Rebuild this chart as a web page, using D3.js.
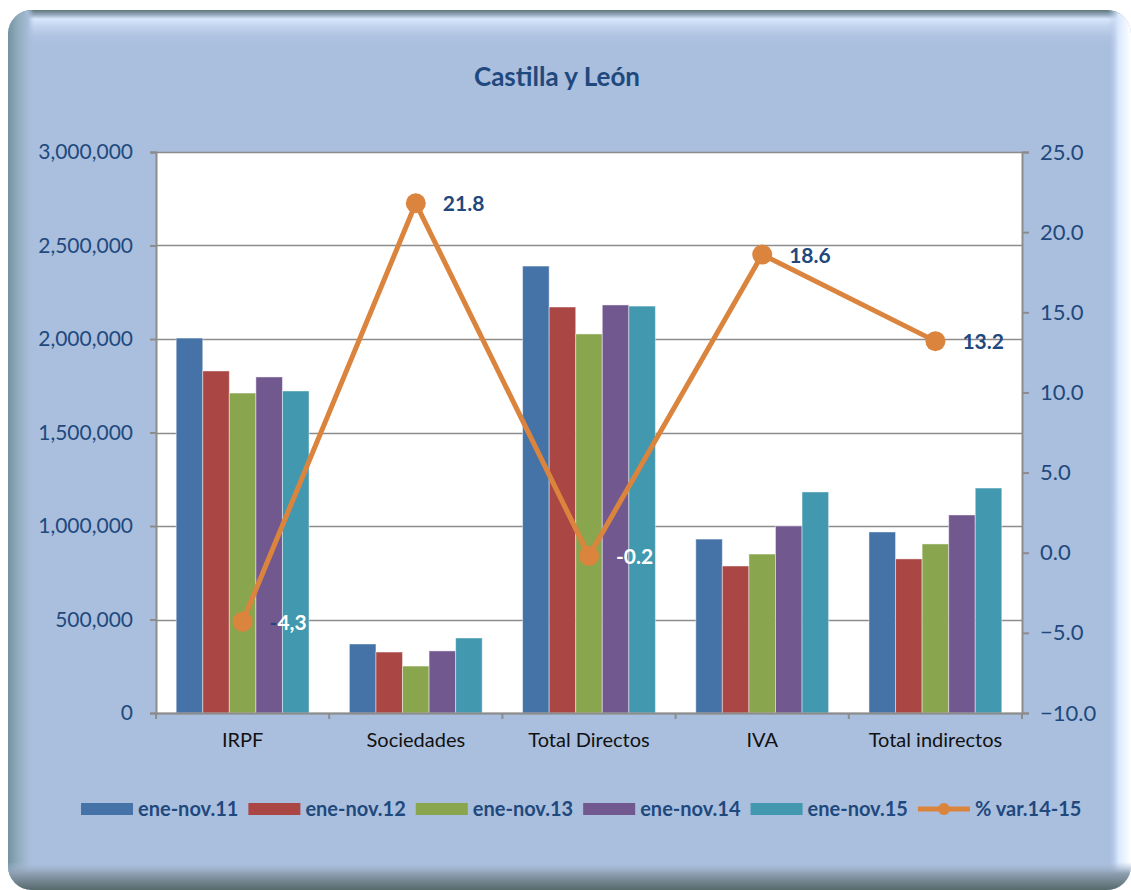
<!DOCTYPE html>
<html>
<head>
<meta charset="utf-8">
<script src="https://cdn.jsdelivr.net/npm/d3@7"></script>
<style>
  html, body { margin: 0; padding: 0; background: #fff; }
  svg { display: block; font-family: Lato, "Open Sans", sans-serif; }
</style>
</head>
<body>
<svg id="chart" width="1131" height="890"></svg>
<script>
// data
var categories = ["IRPF", "Sociedades", "Total Directos", "IVA", "Total indirectos"];
var seriesNames = ["ene-nov.11", "ene-nov.12", "ene-nov.13", "ene-nov.14", "ene-nov.15"];
var ene_nov_11 = [2005000, 369000, 2390000, 930000, 968000];
var ene_nov_12 = [1829000, 326000, 2171000, 786000, 824000];
var ene_nov_13 = [1711000, 251000, 2027000, 850000, 904000];
var ene_nov_14 = [1797000, 332000, 2182000, 1000000, 1059000];
var ene_nov_15 = [1722000, 401000, 2176000, 1182000, 1203000];
var varName = "% var.14-15";
var var14_15 = [-4.3, 21.8, -0.2, 18.6, 13.2];
var varLabels = ["-4,3", "21.8", "-0.2", "18.6", "13.2"];
var leftTicks = [0, 500000, 1000000, 1500000, 2000000, 2500000, 3000000];
var rightTicks = [-10, -5, 0, 5, 10, 15, 20, 25];

var allSeries = [ene_nov_11, ene_nov_12, ene_nov_13, ene_nov_14, ene_nov_15];
var colors = ["#4572A7", "#AA4643", "#89A54E", "#71588F", "#4198AF"];
var lineColor = "#DB843D";
var textBlue = "#1F497D";

var W = 1131, H = 890;
var plot = {left: 156, right: 1022, top: 152, bottom: 713};

var svg = d3.select("#chart");
var defs = svg.append("defs");

// ---- frame / background ----
defs.append("clipPath").attr("id", "frameClip")
  .append("rect").attr("x", 8).attr("y", 10).attr("width", 1123).attr("height", 880).attr("rx", 24);

function grad(id, x1, y1, x2, y2, stops) {
  var g = defs.append("linearGradient").attr("id", id)
    .attr("x1", x1).attr("y1", y1).attr("x2", x2).attr("y2", y2);
  stops.forEach(function(s) {
    g.append("stop").attr("offset", s[0]).attr("stop-color", s[1]).attr("stop-opacity", s[2] == null ? 1 : s[2]);
  });
}
grad("gTop", 0, 0, 0, 1, [[0, "#5f7679"], [0.12, "#8ea3b8"], [0.25, "#d9e7fd"], [1, "#aabfde", 0]]);
grad("gLeft", 0, 0, 1, 0, [[0, "#7492a0"], [0.35, "#8faabb"], [0.75, "#a5bbd6"], [1, "#aabfde", 0]]);
grad("gRight", 0, 0, 1, 0, [[0, "#aabfde", 0], [0.45, "#d9e8fc"], [1, "#ffffff"]]);
grad("gBottom", 0, 0, 0, 1, [[0, "#aabfde", 0], [0.4, "#8ea0b2"], [1, "#56696b"]]);

var frame = svg.append("g").attr("clip-path", "url(#frameClip)");
frame.append("rect").attr("x", 0).attr("y", 0).attr("width", W).attr("height", H).attr("fill", "#aabfde");
frame.append("rect").attr("x", 0).attr("y", 10).attr("width", W).attr("height", 36).attr("fill", "url(#gTop)");
frame.append("rect").attr("x", 8).attr("y", 0).attr("width", 26).attr("height", H).attr("fill", "url(#gLeft)");
frame.append("rect").attr("x", 1108).attr("y", 0).attr("width", 23).attr("height", H).attr("fill", "url(#gRight)");
frame.append("rect").attr("x", 0).attr("y", 862).attr("width", W).attr("height", 28).attr("fill", "url(#gBottom)");

// ---- title ----
svg.append("text")
  .attr("x", 557).attr("y", 86)
  .attr("text-anchor", "middle")
  .attr("font-size", 26).attr("font-weight", "bold")
  .attr("fill", textBlue)
  .text("Castilla y León");

// ---- scales ----
var x0 = d3.scaleBand().domain(categories).range([plot.left, plot.right]).padding(0);
var x1 = d3.scaleBand().domain(d3.range(seriesNames.length)).range([0, x0.bandwidth()])
  .paddingInner(0).paddingOuter(0.76);
var yL = d3.scaleLinear().domain([0, 3000000]).range([plot.bottom, plot.top]);
var yR = d3.scaleLinear().domain([-10, 25]).range([plot.bottom, plot.top]);

// plot background
svg.append("rect")
  .attr("x", plot.left).attr("y", plot.top)
  .attr("width", plot.right - plot.left).attr("height", plot.bottom - plot.top)
  .attr("fill", "#fff");

// gridlines
svg.append("g").selectAll("line").data(leftTicks).enter().append("line")
  .attr("x1", plot.left).attr("x2", plot.right)
  .attr("y1", function(d) { return Math.round(yL(d)) + 0.5; })
  .attr("y2", function(d) { return Math.round(yL(d)) + 0.5; })
  .attr("stroke", "#8c8c8c").attr("stroke-width", 1.5);

// ---- bars ----
var groups = svg.append("g").selectAll("g").data(categories).enter().append("g")
  .attr("transform", function(d) { return "translate(" + x0(d) + ",0)"; });
groups.selectAll("rect")
  .data(function(d, i) { return allSeries.map(function(s, k) { return {k: k, v: s[i]}; }); })
  .enter().append("rect")
  .attr("x", function(d) { return x1(d.k); })
  .attr("width", x1.bandwidth())
  .attr("y", function(d) { return yL(d.v); })
  .attr("height", function(d) { return yL(0) - yL(d.v); })
  .attr("fill", function(d) { return colors[d.k]; })
  .attr("stroke", "rgba(255,255,255,0.45)").attr("stroke-width", 1);

// ---- axes ----
var axisColor = "#8c8c8c";
var gL = svg.append("g").attr("transform", "translate(" + plot.left + ",0)")
  .call(d3.axisLeft(yL).tickValues(leftTicks).tickSize(6).tickPadding(17)
    .tickFormat(d3.format(",")));
var gR = svg.append("g").attr("transform", "translate(" + plot.right + ",0)")
  .call(d3.axisRight(yR).tickValues(rightTicks).tickSize(7).tickPadding(11)
    .tickFormat(d3.format(".1f")));
var gB = svg.append("g").attr("transform", "translate(0," + plot.bottom + ")")
  .call(d3.axisBottom(x0).tickSize(0).tickPadding(20));
[gL, gR, gB].forEach(function(g) {
  g.select(".domain").attr("stroke", axisColor).attr("stroke-width", 2);
  g.selectAll(".tick line").attr("stroke", axisColor).attr("stroke-width", 2);
});
gL.selectAll("text").attr("font-family", "Lato, sans-serif").attr("font-size", 21).attr("fill", textBlue);
gR.selectAll("text").attr("font-family", "Lato, sans-serif").attr("font-size", 22).attr("fill", textBlue);
gB.selectAll("text").attr("font-family", "Lato, sans-serif").attr("font-size", 20).attr("fill", "#111");
// category boundary ticks
svg.append("g").selectAll("line").data(d3.range(categories.length + 1)).enter().append("line")
  .attr("x1", function(i) { return plot.left + i * x0.step(); })
  .attr("x2", function(i) { return plot.left + i * x0.step(); })
  .attr("y1", plot.bottom).attr("y2", plot.bottom + 6)
  .attr("stroke", axisColor).attr("stroke-width", 2);

// ---- line series ----
var cx = function(d, i) { return x0(categories[i]) + x0.bandwidth() / 2; };
svg.append("path")
  .datum(var14_15)
  .attr("d", d3.line().x(cx).y(function(d) { return yR(d); }))
  .attr("fill", "none").attr("stroke", lineColor).attr("stroke-width", 5)
  .attr("stroke-linejoin", "round");
svg.append("g").selectAll("circle").data(var14_15).enter().append("circle")
  .attr("cx", cx).attr("cy", function(d) { return yR(d); }).attr("r", 10)
  .attr("fill", lineColor);

// data labels
var lbl = svg.append("g").selectAll("text").data(varLabels).enter().append("text")
  .attr("x", function(d, i) { return cx(d, i) + 27; })
  .attr("y", function(d, i) { return yR(var14_15[i]) + 8; })
  .attr("font-size", 21).attr("font-weight", "bold")
  .attr("fill", function(d, i) { return var14_15[i] < 0 ? "#fff" : textBlue; });
lbl.each(function(d, i) {
  var t = d3.select(this);
  if (d.indexOf(",") >= 0) {
    t.append("tspan").attr("fill", textBlue).text(d.slice(0, 1));
    t.append("tspan").text(d.slice(1));
  } else {
    t.text(d);
  }
});

// ---- legend ----
var legendItems = seriesNames.map(function(n, i) { return {name: n, color: colors[i], line: false}; })
  .concat([{name: varName, color: lineColor, line: true}]);
var legend = svg.append("g").attr("transform", "translate(81,809)");
var lx = 0;
legendItems.forEach(function(it) {
  var g = legend.append("g").attr("transform", "translate(" + lx + ",0)");
  if (it.line) {
    g.append("line").attr("x1", 0).attr("x2", 52).attr("y1", 0).attr("y2", 0)
      .attr("stroke", it.color).attr("stroke-width", 5);
    g.append("circle").attr("cx", 26).attr("cy", 0).attr("r", 6).attr("fill", it.color);
  } else {
    g.append("rect").attr("x", 0).attr("y", -6).attr("width", 52).attr("height", 12).attr("fill", it.color);
  }
  var t = g.append("text").attr("x", 57).attr("y", 7)
    .attr("font-size", 20).attr("font-weight", "bold").attr("fill", textBlue)
    .text(it.name);
  lx += 57 + t.node().getComputedTextLength() + 10;
});
</script>
</body>
</html>
